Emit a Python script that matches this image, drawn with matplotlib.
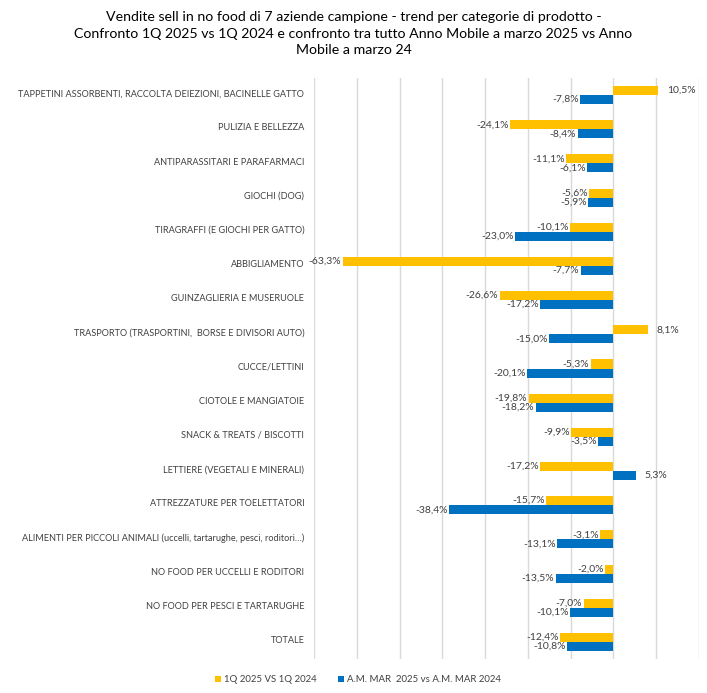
import matplotlib.pyplot as plt
import numpy as np

plt.rcParams['font.family'] = ['Lato', 'DejaVu Sans']

# categories and values
categories = [
    "TAPPETINI ASSORBENTI, RACCOLTA DEIEZIONI, BACINELLE GATTO",
    "PULIZIA E BELLEZZA",
    "ANTIPARASSITARI E PARAFARMACI",
    "GIOCHI (DOG)",
    "TIRAGRAFFI (E GIOCHI PER GATTO)",
    "ABBIGLIAMENTO",
    "GUINZAGLIERIA E MUSERUOLE",
    "TRASPORTO (TRASPORTINI,  BORSE E DIVISORI AUTO)",
    "CUCCE/LETTINI",
    "CIOTOLE E MANGIATOIE",
    "SNACK & TREATS / BISCOTTI",
    "LETTIERE (VEGETALI E MINERALI)",
    "ATTREZZATURE PER TOELETTATORI",
    "ALIMENTI PER PICCOLI ANIMALI (uccelli, tartarughe, pesci, roditori…)",
    "NO FOOD PER UCCELLI E RODITORI",
    "NO FOOD PER PESCI E TARTARUGHE",
    "TOTALE",
]
q1_vs_q1 = [10.5, -24.1, -11.1, -5.6, -10.1, -63.3, -26.6, 8.1, -5.3, -19.8,
            -9.9, -17.2, -15.7, -3.1, -2.0, -7.0, -12.4]
am_vs_am = [-7.8, -8.4, -6.1, -5.9, -23.0, -7.7, -17.2, -15.0, -20.1, -18.2,
            -3.5, 5.3, -38.4, -13.1, -13.5, -10.1, -10.8]
series_names = ["1Q 2025 VS 1Q 2024", "A.M. MAR  2025 vs A.M. MAR 2024"]

yellow = '#FFC000'
blue = '#0070C0'
txt = '#404040'

fig = plt.figure(figsize=(7.07, 6.93), dpi=100)
ax = fig.add_axes([314/707, 1-659/693, 385/707, 581/693])

y = np.arange(len(categories))
h = 0.265
b1 = ax.barh(y - h/2, q1_vs_q1, height=h, color=yellow, label=series_names[0], zorder=3)
b2 = ax.barh(y + h/2, am_vs_am, height=h, color=blue, label=series_names[1], zorder=3)

def fmt(v):
    return f"{v:.1f}%".replace('.', ',')

for bars, vals in [(b1, q1_vs_q1), (b2, am_vs_am)]:
    for bar, v in zip(bars, vals):
        yc = bar.get_y() + bar.get_height()/2
        if v >= 0:
            ax.annotate(fmt(v), (v, yc), xytext=(6, 0), textcoords='offset points',
                        ha='left', va='center', fontsize=7.5, color=txt, clip_on=False)
        else:
            ax.annotate(fmt(v), (v, yc), xytext=(-1, 0), textcoords='offset points',
                        ha='right', va='center', fontsize=7.5, color=txt, clip_on=False)

ax.set_xlim(-70, 20)
ax.set_ylim(len(categories) - 0.5, -0.5)
ax.set_xticks(np.arange(-70, 21, 10))
ax.set_xticklabels([])
ax.tick_params(axis='x', length=0)
ax.grid(axis='x', color='#D9D9D9', linewidth=1, zorder=0)
ax.set_yticks(y - 0.07)
ax.set_yticklabels(categories, fontsize=6.6, color=txt)
ax.tick_params(axis='y', length=0, pad=7)
for s in ['top', 'right', 'bottom', 'left']:
    ax.spines[s].set_visible(False)

fig.suptitle("Vendite sell in no food di 7 aziende campione - trend per categorie di prodotto -\n"
             "Confronto 1Q 2025 vs 1Q 2024 e confronto tra tutto Anno Mobile a marzo 2025 vs Anno\n"
             "Mobile a marzo 24", y=0.984, fontsize=10.2, color='black', linespacing=1.45)

fig.legend(loc='center', bbox_to_anchor=(358/707, 1-680/693), ncol=2, frameon=False,
           fontsize=6.9, handlelength=0.6, handleheight=0.6, handletextpad=0.3,
           columnspacing=2.2, labelcolor=txt)

fig.savefig('out.png', dpi=100)
